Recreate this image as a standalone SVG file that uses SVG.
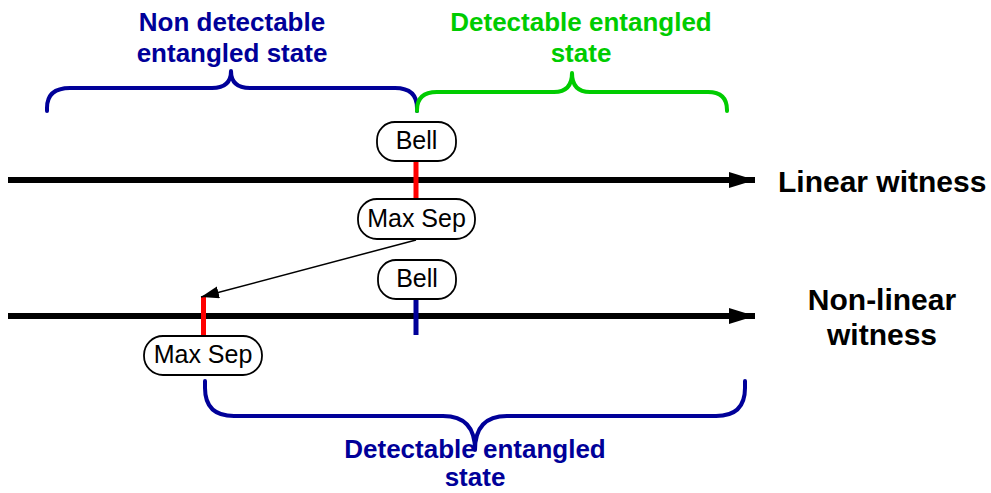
<svg xmlns="http://www.w3.org/2000/svg" width="991" height="493" viewBox="0 0 991 493">
  <style>
    .brace { fill: none; stroke-width: 4; stroke-linecap: round; stroke-linejoin: round; }
    .navy { stroke: #000099; }
    .green { stroke: #00cc00; }
    .label { font-family: "Liberation Sans", Arial, sans-serif; font-weight: bold; font-size: 26px; text-anchor: middle; }
    .axis-label { font-family: "Liberation Sans", Arial, sans-serif; font-weight: bold; font-size: 30px; fill: #000; }
    .box { fill: #fff; stroke: #000; stroke-width: 1.8; }
    .box-text { font-family: "Liberation Sans", Arial, sans-serif; font-size: 25px; text-anchor: middle; fill: #000; }
    .axis { stroke: #000; stroke-width: 6; fill: none; }
    .tick { stroke-width: 5; fill: none; }
  </style>
  <defs>
    <marker id="axisHead" markerUnits="userSpaceOnUse" markerWidth="28" markerHeight="18" refX="26" refY="8" orient="auto">
      <path d="M0,0 L26,8 L0,16 Z" fill="#000"/>
    </marker>
    <marker id="thinHead" markerUnits="userSpaceOnUse" markerWidth="20" markerHeight="14" refX="18" refY="6" orient="auto">
      <path d="M0,0 L18,6 L0,12 Z" fill="#000"/>
    </marker>
  </defs>

  <rect width="991" height="493" fill="#fff"/>

  <!-- braces and their labels -->
  <g id="brace-non-detectable">
    <path class="brace navy" d="M47,111 L47,108 Q47,88 70,88 L212,88 Q231,88 231,71 Q231,88 250,88 L395,88 Q417,88 417,108 L417,111"/>
    <text class="label" fill="#000099" x="232" y="31">Non detectable</text>
    <text class="label" fill="#000099" x="232" y="62">entangled state</text>
  </g>
  <g id="brace-detectable-linear">
    <path class="brace green" d="M417,111 L417,110 Q417,92 437,92 L554,92 Q572,92 572,73 Q572,92 590,92 L708,92 Q727,92 727,110 L727,111"/>
    <text class="label" fill="#00cc00" x="581" y="31">Detectable entangled</text>
    <text class="label" fill="#00cc00" x="581" y="62">state</text>
  </g>
  <g id="brace-detectable-nonlinear">
    <path class="brace navy" d="M205,381 L205,388 Q205,416 234,416 L443,416 Q475,416 475,450 Q475,416 507,416 L716,416 Q745,416 745,388 L745,381"/>
    <text class="label" fill="#000099" x="475" y="458">Detectable entangled</text>
    <text class="label" fill="#000099" x="475" y="486">state</text>
  </g>

  <!-- axes, position ticks and the shift arrow -->
  <g id="connectors">
    <line class="axis" x1="8" y1="180" x2="755" y2="180" marker-end="url(#axisHead)"/>
    <line class="axis" x1="8" y1="316" x2="755" y2="316" marker-end="url(#axisHead)"/>
    <line class="tick" stroke="#ff0000" x1="416" y1="161" x2="416" y2="199"/>
    <line class="tick" stroke="#000099" x1="416" y1="299" x2="416" y2="335"/>
    <line class="tick" stroke="#ff0000" x1="203.5" y1="297" x2="203.5" y2="336"/>
    <line stroke="#000" stroke-width="1.5" x1="416" y1="240" x2="201" y2="297" marker-end="url(#thinHead)"/>
  </g>

  <g id="axis-linear-label">
    <text class="axis-label" x="778" y="192">Linear witness</text>
  </g>
  <g id="axis-nonlinear-label">
    <text class="axis-label" x="882" y="310" text-anchor="middle">Non-linear</text>
    <text class="axis-label" x="882" y="345" text-anchor="middle">witness</text>
  </g>

  <!-- state markers -->
  <g id="bell-linear">
    <rect class="box" x="377" y="122" width="79" height="39" rx="18"/>
    <text class="box-text" x="416.5" y="149">Bell</text>
  </g>
  <g id="maxsep-linear">
    <rect class="box" x="358" y="199" width="117" height="40" rx="19"/>
    <text class="box-text" x="416.5" y="227">Max Sep</text>
  </g>
  <g id="bell-nonlinear">
    <rect class="box" x="378" y="260" width="78" height="39" rx="18"/>
    <text class="box-text" x="417" y="287">Bell</text>
  </g>
  <g id="maxsep-nonlinear">
    <rect class="box" x="144" y="336" width="118" height="39" rx="19"/>
    <text class="box-text" x="203" y="363">Max Sep</text>
  </g>
</svg>
